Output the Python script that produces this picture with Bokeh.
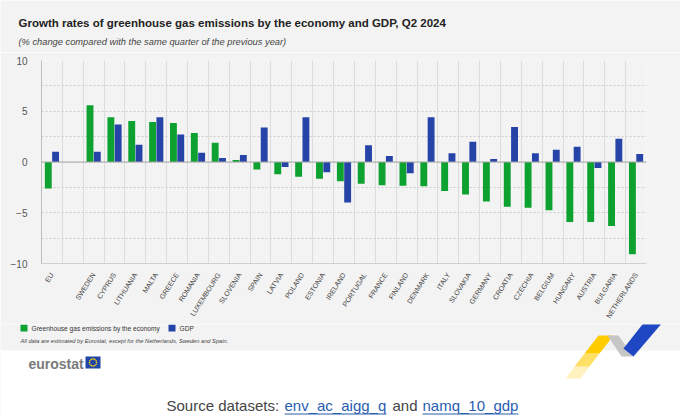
import math
from bokeh.plotting import figure
from bokeh.models import FactorRange, ColumnDataSource, FixedTicker, Span, Range1d
from bokeh.transform import dodge
from bokeh.core.properties import value
from bokeh.embed import file_html
from bokeh.resources import INLINE

# ---------------- data ----------------
categories = ["EU", " ", "SWEDEN", "CYPRUS", "LITHUANIA", "MALTA", "GREECE", "ROMANIA",
              "LUXEMBOURG", "SLOVENIA", "SPAIN", "LATVIA", "POLAND", "ESTONIA", "IRELAND",
              "PORTUGAL", "FRANCE", "FINLAND", "DENMARK", "ITALY", "SLOVAKIA", "GERMANY",
              "CROATIA", "CZECHIA", "BELGIUM", "HUNGARY", "AUSTRIA", "BULGARIA", "NETHERLANDS"]
countries = [c for c in categories if c.strip()]
ghg = [-2.6, 5.6, 4.4, 4.05, 3.95, 3.85, 2.85, 1.9, 0.2, -0.75, -1.2, -1.45, -1.65, -1.9,
       -2.15, -2.3, -2.35, -2.4, -2.85, -3.2, -3.9, -4.4, -4.5, -4.75, -5.9, -5.9, -6.3, -9.1]
gdp = [1.0, 1.0, 3.7, 1.7, 4.4, 2.7, 0.9, 0.4, 0.7, 3.4, -0.5, 4.4, -1.0, -4.0,
       1.65, 0.6, -1.1, 4.4, 0.85, 2.0, 0.3, 3.45, 0.85, 1.2, 1.5, -0.6, 2.3, 0.8]
y_ticks = [-10, -5, 0, 5, 10]
y_grid = [-10, -7.5, -5, -2.5, 0, 2.5, 5, 7.5, 10]

title = "Growth rates of greenhouse gas emissions by the economy and GDP, Q2 2024"
subtitle = "(% change compared with the same quarter of the previous year)"
series_names = ["Greenhouse gas emissions by the economy", "GDP"]
footnote = "All data are estimated by Eurostat, except for the Netherlands, Sweden and Spain."
source_parts = ["Source datasets:", "env_ac_aigg_q", "and", "namq_10_gdp"]

# ---------------- style ----------------
GREEN = "#0da12f"
BLUE = "#2644a7"
BG = "#f3f3f3"
FONT = "Liberation Sans"
LINK = "#2a5db0"

W = 680
H_HEAD, H_CHART = 52, 272
H_FOOT = 417 - H_HEAD - H_CHART
Y0_CHART = H_HEAD
Y0_FOOT = H_HEAD + H_CHART
FL, FR, FT, FB = 41, 646, 60, 263   # frame edges in page pixels


def deco(h, y0):
    f = figure(width=W, height=h, x_range=Range1d(0, W), y_range=Range1d(y0 + h, y0),
               output_backend="svg", toolbar_location=None, min_border=0,
               x_axis_type=None, y_axis_type=None)
    f.outline_line_color = None
    f.background_fill_color = BG
    f.border_fill_color = BG
    return f


def txt(f, x, y, s, size, color, style="normal", align="left", font=FONT):
    f.text(x=[x], y=[y], text=[s], text_font=value(font), text_font_size=size,
           text_font_style=style, text_color=color, text_align=align,
           text_baseline="middle")


# ---------------- header ----------------
head = deco(H_HEAD, 0)
txt(head, 18, 22, title, "11.5px", "#222222", style="bold")
txt(head, 18, 41, subtitle, "9.3px", "#444444", style="italic")

# ---------------- chart ----------------
p = figure(width=W, height=H_CHART, x_range=FactorRange(factors=categories),
           y_range=(-10, 10), output_backend="svg", toolbar_location=None,
           min_border_left=FL, min_border_right=W - FR,
           min_border_top=FT - Y0_CHART, min_border_bottom=Y0_FOOT - FB)
p.background_fill_color = BG
p.border_fill_color = BG
p.outline_line_color = None

src = ColumnDataSource(dict(c=countries, ghg=ghg, gdp=gdp))
p.vbar(x=dodge("c", -0.175, range=p.x_range), top="ghg", bottom=0, width=0.33,
       source=src, fill_color=GREEN, line_color=None)
p.vbar(x=dodge("c", 0.175, range=p.x_range), top="gdp", bottom=0, width=0.33,
       source=src, fill_color=BLUE, line_color=None)

p.xgrid.ticker = FixedTicker(ticks=list(range(len(categories) + 1)))
p.xgrid.grid_line_color = "#dcdcdc"
p.ygrid.ticker = FixedTicker(ticks=y_grid)
p.ygrid.grid_line_color = "#cccccc"
p.ygrid.grid_line_dash = "2 2"
p.add_layout(Span(location=0, dimension="width", line_color="#a8a8a8", line_width=1))

p.yaxis.ticker = FixedTicker(ticks=y_ticks)
p.yaxis.axis_line_color = "#bdbdbd"
p.yaxis.major_tick_line_color = None
p.yaxis.minor_tick_line_color = None
p.yaxis.major_label_text_font = FONT
p.yaxis.major_label_text_font_size = "10px"
p.yaxis.major_label_text_color = "#555555"
p.yaxis.major_label_standoff = 8

p.xaxis.axis_line_color = "#d0d0d0"
p.xaxis.major_tick_line_color = None
p.xaxis.minor_tick_line_color = None
p.xaxis.major_label_orientation = 1.0
p.xaxis.major_label_text_font = FONT
p.xaxis.major_label_text_font_size = "7px"
p.xaxis.major_label_text_color = "#444444"
p.xaxis.major_label_standoff = 4

# ---------------- footer ----------------
foot = deco(H_FOOT, Y0_FOOT)
y1 = Y0_FOOT + H_FOOT
foot.quad(left=[0], right=[W], top=[350], bottom=[y1], fill_color="#ffffff", line_color=None)

# legend
foot.quad(left=[20], right=[27], top=[Y0_FOOT], bottom=[331], fill_color=GREEN, line_color=None)
txt(foot, 31, 327.5, series_names[0], "6.6px", "#333333")
foot.quad(left=[168], right=[175], top=[Y0_FOOT], bottom=[331], fill_color=BLUE, line_color=None)
txt(foot, 179, 327.5, series_names[1], "6.6px", "#333333")
txt(foot, 20, 340, footnote, "5.7px", "#444444", style="italic")

# eurostat logo
txt(foot, 28, 363, "eurostat", "14px", "#7a7a7a", style="bold")
foot.quad(left=[85], right=[100], top=[356], bottom=[368], fill_color="#2044a8", line_color=None)
cx, cy, r = 92.5, 362, 3.6
foot.scatter(x=[cx + r * math.cos(2 * math.pi * k / 12) for k in range(12)],
             y=[cy + r * math.sin(2 * math.pi * k / 12) for k in range(12)],
             size=1.6, fill_color="#ffdd00", line_color=None)

# swoosh decoration
foot.patch([598, 613, 599, 584], [335, 335, 353, 353], fill_color="#ffcc00", line_color=None)
foot.patch([584, 599, 589, 574], [353, 353, 366, 366], fill_color="#ffcc00", fill_alpha=0.6,
           line_color=None)
foot.patch([574, 589, 580, 565], [366, 366, 378, 378], fill_color="#ffcc00", fill_alpha=0.25,
           line_color=None)
foot.patch([607, 618, 633, 621], [335, 335, 356, 356], fill_color="#c6c6c6", line_color=None)
foot.patch([649, 668, 633, 623], [315, 315, 356, 348], fill_color="#1f47c4", line_color=None)

# source line
txt(foot, 166, 405, source_parts[0], "15px", "#444444")
txt(foot, 284, 405, source_parts[1], "15px", LINK)
txt(foot, 392, 405, source_parts[2], "15px", "#444444")
txt(foot, 422, 405, source_parts[3], "15px", LINK)
foot.quad(left=[284, 422], right=[386, 518], top=[413, 413], bottom=[414, 414],
          fill_color=LINK, line_color=None)

open("out.html", "w").write(file_html([head, p, foot], INLINE))
